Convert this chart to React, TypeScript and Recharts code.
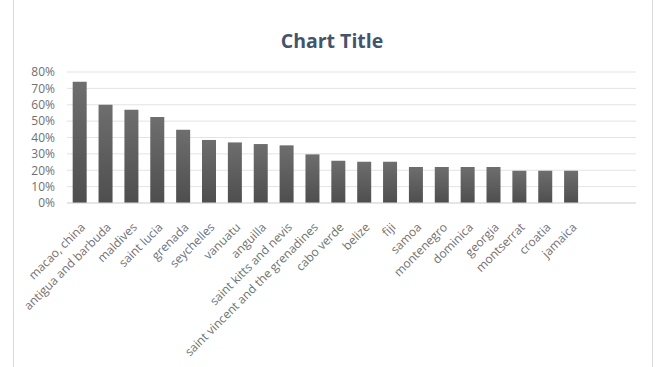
import { BarChart, Bar, XAxis, YAxis, CartesianGrid } from 'recharts';

// countries shown on the x axis (two empty slots at the end, as in the source sheet)
const countries = [
  'macao, china', 'antigua and barbuda', 'maldives', 'saint lucia', 'grenada',
  'seychelles', 'vanuatu', 'anguilla', 'saint kitts and nevis',
  'saint vincent and the grenadines', 'cabo verde', 'belize', 'fiji', 'samoa',
  'montenegro', 'dominica', 'georgia', 'montserrat', 'croatia', 'jamaica', ' ', '  ',
];
const shares = [
  0.74, 0.60, 0.57, 0.525, 0.447, 0.385, 0.37, 0.36, 0.352,
  0.297, 0.258, 0.252, 0.252, 0.22, 0.22, 0.22, 0.22, 0.197, 0.197, 0.197, null, null,
];
const yTicks = [0, 0.1, 0.2, 0.3, 0.4, 0.5, 0.6, 0.7, 0.8];

const data = countries.map((name, i) => ({ name, value: shares[i] }));

const font = '"Open Sans", "Liberation Sans", sans-serif';

export default function App() {
  return (
    <div style={{ position: 'absolute', left: 0, top: 0, width: 657, height: 367, background: '#fff', fontFamily: font }}>
      <div style={{ position: 'absolute', left: 13, top: 0, width: 1, height: 367, background: '#d9d9d9' }} />
      <div style={{ position: 'absolute', left: 652, top: 0, width: 1, height: 367, background: '#d9d9d9' }} />
      <div style={{ position: 'absolute', left: 0, width: 664, top: 27, textAlign: 'center', fontSize: 19.5, fontWeight: 700, color: '#44546a' }}>
        Chart Title
      </div>
      <BarChart width={657} height={367} data={data} margin={{ top: 72, right: 21, left: 0, bottom: 0 }} barCategoryGap="22%">
        <defs>
          <linearGradient id="barFill" x1="0" y1="0" x2="0" y2="1">
            <stop offset="0%" stopColor="#6e6e6e" />
            <stop offset="100%" stopColor="#4e4e4e" />
          </linearGradient>
        </defs>
        <CartesianGrid vertical={false} stroke="#e3e3e3" />
        <XAxis
          dataKey="name"
          interval={0}
          angle={-45}
          textAnchor="end"
          height={164}
          tickLine={false}
          tickSize={0}
          tickMargin={19}
          axisLine={{ stroke: '#d9d9d9' }}
          tick={{ fontSize: 12, fill: '#707070', fontFamily: font }}
        />
        <YAxis
          width={67}
          domain={[0, 0.8]}
          ticks={yTicks}
          interval={0}
          tickFormatter={(v: number) => `${Math.round(v * 100)}%`}
          axisLine={false}
          tickLine={false}
          tickSize={0}
          tickMargin={12}
          tick={{ fontSize: 12, fill: '#707070', fontFamily: font }}
        />
        <Bar dataKey="value" fill="url(#barFill)" isAnimationActive={false} />
      </BarChart>
    </div>
  );
}
